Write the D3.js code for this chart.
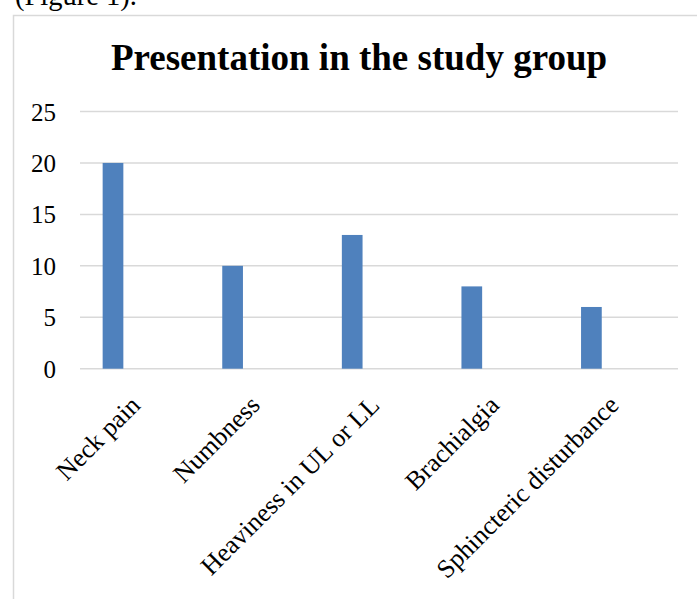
<!DOCTYPE html>
<html>
<head>
<meta charset="utf-8">
<script src="https://cdn.jsdelivr.net/npm/d3@7"></script>
<style>
  html, body { margin: 0; padding: 0; background: #fff; overflow: hidden; }
  svg { display: block; }
  text { font-family: "Liberation Serif", "Times New Roman", serif; fill: #000; }
</style>
</head>
<body>
<svg id="chart" width="697" height="599"></svg>
<script>
const categories = ["Neck pain", "Numbness", "Heaviness in UL or LL", "Brachialgia", "Sphincteric disturbance"];
const values = [20, 10, 13, 8, 6];
const yTicks = [0, 5, 10, 15, 20, 25];
const title = "Presentation in the study group";
const caption = "(Figure 1).";

const svg = d3.select("#chart");

// caption above chart (partially cut, as in the reference)
svg.append("text").attr("x", 15).attr("y", 5)
  .style("font-size", "28.5px").text(caption);

// chart frame (extends beyond the window)
svg.append("rect")
  .attr("x", 13.5).attr("y", 15.5)
  .attr("width", 900).attr("height", 900)
  .attr("fill", "none").attr("stroke", "#d9d9d9").attr("stroke-width", 1.5);

// title
svg.append("text").attr("x", 359).attr("y", 70)
  .attr("text-anchor", "middle")
  .style("font-size", "37px").style("font-weight", "bold")
  .text(title);

const plotLeft = 80, plotRight = 678, plotTop = 111.5, plotBottom = 368.7;

const x = d3.scaleBand().domain(categories).range([plotLeft, plotRight]);
const y = d3.scaleLinear().domain([0, 25]).range([plotBottom, plotTop]);

// gridlines
svg.append("g").selectAll("line").data(yTicks).join("line")
  .attr("x1", plotLeft).attr("x2", plotRight)
  .attr("y1", d => y(d)).attr("y2", d => y(d))
  .attr("stroke", "#d9d9d9").attr("stroke-width", 1.5);

// y axis labels
const yAxis = d3.axisLeft(y).tickValues(yTicks).tickSize(0).tickPadding(0);
const gy = svg.append("g").attr("transform", `translate(56,0)`).call(yAxis)
  .attr("font-family", null).attr("font-size", null);
gy.select(".domain").remove();
gy.selectAll("text")
  .attr("x", 0).attr("dy", "0.34em")
  .style("font-size", "25px")
  .style("font-family", "'Liberation Serif', 'Times New Roman', serif")
  .attr("fill", "#000");

// bars (offset left within category, as in a clustered column)
const barW = 20.7, barOffset = 26.8;
svg.append("g").selectAll("rect").data(values).join("rect")
  .attr("x", (d, i) => x(categories[i]) + x.bandwidth() / 2 - barOffset - barW / 2)
  .attr("y", d => y(d))
  .attr("width", barW)
  .attr("height", d => y(0) - y(d))
  .attr("fill", "#4f81bd");

// x axis labels rotated
const xAxis = d3.axisBottom(x).tickSize(0).tickPadding(0);
const gx = svg.append("g").attr("transform", `translate(0,${plotBottom})`).call(xAxis)
  .attr("font-family", null).attr("font-size", null);
gx.select(".domain").remove();
gx.selectAll(".tick text")
  .attr("text-anchor", "end")
  .attr("dy", 0).attr("y", 0)
  .attr("transform", "translate(2,38) rotate(-45)")
  .style("font-size", "26px")
  .style("font-family", "'Liberation Serif', 'Times New Roman', serif")
  .attr("fill", "#000");
</script>
</body>
</html>
